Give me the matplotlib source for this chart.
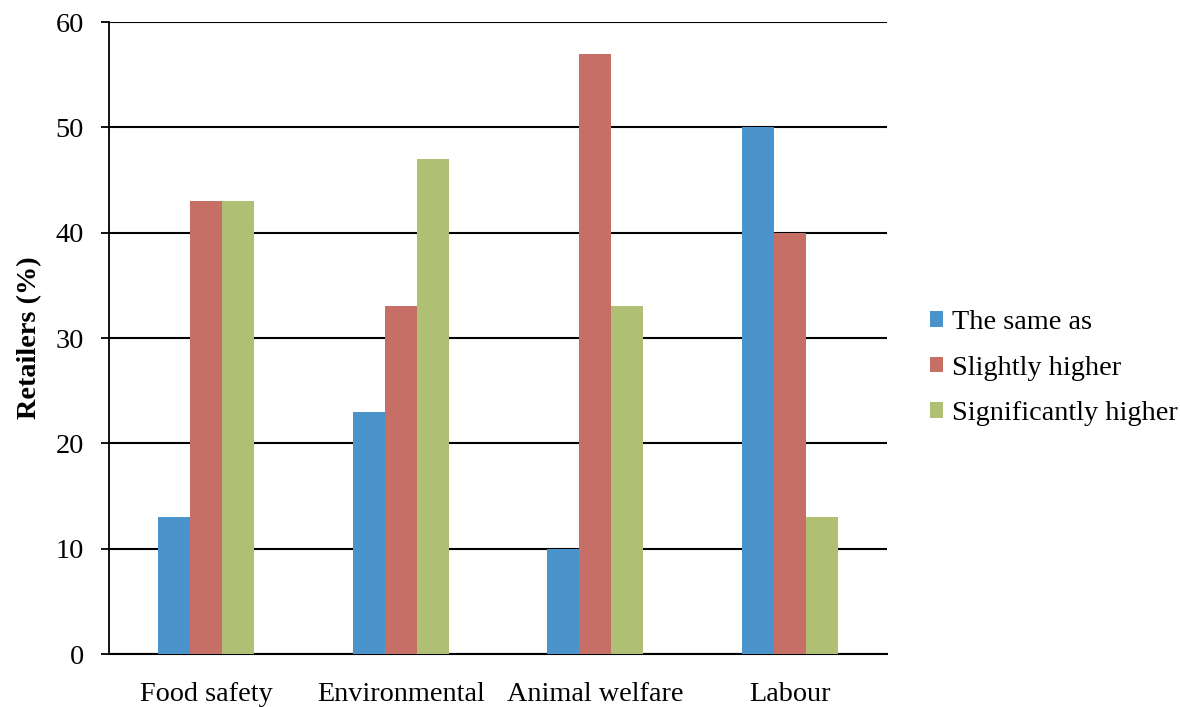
import matplotlib
matplotlib.use("Agg")
import matplotlib.pyplot as plt
import numpy as np

categories = ["Food safety", "Environmental", "Animal welfare", "Labour"]
series_names = ["The same as", "Slightly higher", "Significantly higher"]
same_as = [13, 23, 10, 50]
slightly_higher = [43, 33, 57, 40]
significantly_higher = [43, 47, 33, 13]
y_ticks = [0, 10, 20, 30, 40, 50, 60]

colors = ["#4A94CB", "#C56F66", "#AFBF73"]

plt.rcParams["font.family"] = ["Liberation Serif", "DejaVu Serif"]
FS = 20.3

fig = plt.figure(figsize=(11.8, 7.07), dpi=100)
ax = fig.add_axes([109 / 1180, 1 - 654 / 707, (887 - 109) / 1180, (654 - 22) / 707])

x = np.arange(len(categories))
width = 0.165
for i, (vals, name, c) in enumerate(zip([same_as, slightly_higher, significantly_higher], series_names, colors)):
    ax.bar(x + (i - 1) * width, vals, width, color=c, label=name, zorder=3)

ax.set_xlim(-0.5, len(categories) - 0.5)
ax.set_ylim(0, 60)
ax.set_yticks(y_ticks)
ax.set_yticklabels([str(v) for v in y_ticks], fontsize=FS)
ax.set_xticks(x)
ax.set_xticklabels(categories, fontsize=FS)
ax.tick_params(axis="x", length=0, pad=20)
ax.tick_params(axis="y", length=6, width=1.3, direction="out", pad=12)
ax.yaxis.grid(True, color="black", linewidth=1.5, zorder=0)
ax.set_axisbelow(True)
for s in ["top", "right"]:
    ax.spines[s].set_visible(False)
ax.spines["left"].set_linewidth(1.3)
ax.spines["bottom"].set_linewidth(1.5)
ax.set_ylabel("Retailers (%)", fontsize=FS, fontweight="bold", labelpad=10)

fig.legend(loc="center left", bbox_to_anchor=(930 / 1180, 1 - 368 / 707), frameon=False,
           borderpad=0, borderaxespad=0,
           fontsize=FS, handlelength=0.47, handleheight=0.47, handletextpad=0.3, labelspacing=0.72)

fig.savefig("out.png", dpi=100)
